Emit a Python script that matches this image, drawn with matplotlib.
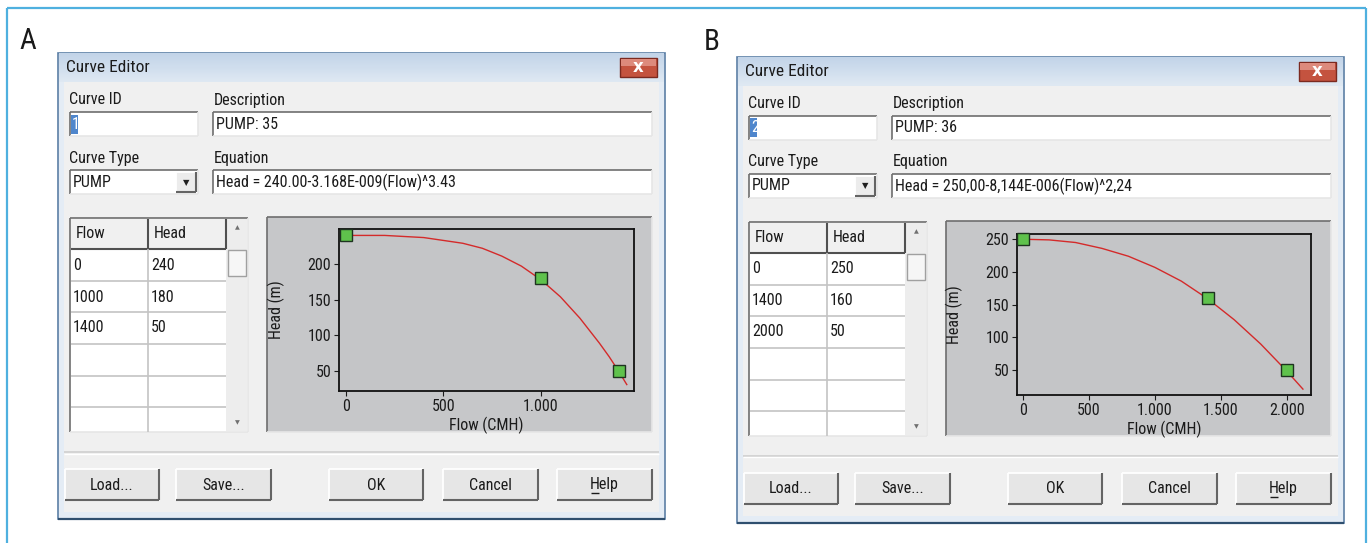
import numpy as np
import matplotlib
matplotlib.use('Agg')
import matplotlib.pyplot as plt
from matplotlib.patches import Rectangle
from matplotlib import font_manager as fm
from matplotlib.font_manager import FontProperties

# ---------------- data ----------------
panel_labels = ['A', 'B']
curve_ids = ['1', '2']
descriptions = ['PUMP: 35', 'PUMP: 36']
curve_types = ['PUMP', 'PUMP']
equations = ['Head = 240.00-3.168E-009(Flow)^3.43',
             'Head = 250,00-8,144E-006(Flow)^2,24']

table_flow_A = ['0', '1000', '1400']
table_head_A = ['240', '180', '50']
table_flow_B = ['0', '1400', '2000']
table_head_B = ['250', '160', '50']

points_flow_A = [0, 1000, 1400]
points_head_A = [240, 180, 50]
points_flow_B = [0, 1400, 2000]
points_head_B = [250, 160, 50]

# fitted curves
curve_flow_A = [0, 200, 400, 600, 700, 800, 900, 1000, 1100, 1200, 1300, 1350, 1400, 1440]
curve_head_A = [240, 240, 237, 229, 222, 211, 197, 178, 154, 124, 89, 70, 49, 31]
curve_flow_B = [0, 200, 400, 600, 800, 1000, 1200, 1400, 1600, 1800, 2000, 2120]
curve_head_B = [250, 249, 245, 236, 224, 207, 186, 159, 127, 90, 48, 21]

xticks_A = [0, 500, 1000]
xticklabels_A = ['0', '500', '1.000']
xticks_B = [0, 500, 1000, 1500, 2000]
xticklabels_B = ['0', '500', '1.000', '1.500', '2.000']
yticks_A = [50, 100, 150, 200]
yticks_B = [50, 100, 150, 200, 250]
xlim_A = (-34, 1477)
ylim_A = (22, 249)
xlim_B = (-43, 2181)
ylim_B = (12, 258)

button_labels = ['Load...', 'Save...', 'OK', 'Cancel', 'Help']

# ---------------- fonts ----------------
def find_narrow():
    bad = ('bold', 'italic', 'oblique', 'light', 'black', 'medium', 'thin',
           'semibold', 'extra', 'heavy', 'demi', 'hairline')
    prefs = ['Liberation Sans Narrow', 'Arial Narrow', 'Roboto Condensed',
             'Open Sans Condensed', 'Noto Sans', 'DejaVu Sans', 'Open Sans',
             'Roboto', 'Noto Sans Display']
    cands = []
    for f in fm.fontManager.ttflist:
        fn = f.fname.lower().split('/')[-1]
        nm = f.name
        st = str(f.stretch)
        narrow = ('narrow' in nm.lower() or 'condensed' in nm.lower() or
                  'narrow' in fn or 'condensed' in fn or 'condensed' in st)
        if not narrow:
            continue
        if any(b in fn.replace('condensed', '').replace('narrow', '') for b in bad):
            continue
        if f.style != 'normal':
            continue
        cands.append(f)
    for p in prefs:
        for f in cands:
            if f.name == p or f.name.startswith(p):
                return f.fname, True
    if cands:
        return cands[0].fname, True
    return None, False


NARROW_PATH, HAVE_NARROW = find_narrow()


def FP(size):
    if HAVE_NARROW:
        return FontProperties(fname=NARROW_PATH, size=size)
    return FontProperties(family='Liberation Sans', size=size * 0.9)


TXT = '#1b1b1b'
FS = 11.5

W, H = 1370, 543
fig = plt.figure(figsize=(W / 100, H / 100), dpi=100)
fig.patch.set_facecolor('white')
bg = fig.add_axes([0, 0, 1, 1])
bg.set_xlim(0, W)
bg.set_ylim(H, 0)
bg.axis('off')


def rect(x0, y0, x1, y1, fc, ec='none', lw=0, z=1):
    bg.add_patch(Rectangle((x0, y0), x1 - x0, y1 - y0, facecolor=fc,
                           edgecolor=ec, linewidth=lw, zorder=z))


def hl(x0, x1, y, c, lw=1.0, z=3):
    bg.plot([x0, x1], [y, y], color=c, lw=lw, zorder=z, solid_capstyle='butt')


def vl(x, y0, y1, c, lw=1.0, z=3):
    bg.plot([x, x], [y0, y1], color=c, lw=lw, zorder=z, solid_capstyle='butt')


def sunken(x0, y0, x1, y1, fc='white', z=2):
    rect(x0, y0, x1, y1, fc, z=z)
    hl(x0, x1, y0, '#6e6e6e', 1.2, z + 1)
    vl(x0, y0, y1, '#6e6e6e', 1.2, z + 1)
    hl(x0, x1, y1, '#e6e6e6', 1.2, z + 1)
    vl(x1, y0, y1, '#e6e6e6', 1.2, z + 1)


def raised(x0, y0, x1, y1, fc='#e8e8e8', z=2):
    rect(x0, y0, x1, y1, fc, z=z)
    hl(x0, x1, y0, '#ffffff', 1.3, z + 1)
    vl(x0, y0, y1, '#ffffff', 1.3, z + 1)
    hl(x0, x1, y1, '#646464', 1.5, z + 1)
    vl(x1, y0, y1, '#646464', 1.5, z + 1)


def text(x, y, s, size=FS, ha='left', va='center', color=TXT, fp=None, **kw):
    if fp is None:
        fp = FP(size)
    return bg.text(x, y, s, fontproperties=fp, ha=ha, va=va, color=color,
                   zorder=10, **kw)


def symbol(x, y, s, size, color):
    return bg.text(x, y, s, fontsize=size, ha='center', va='center', color=color,
                   family='DejaVu Sans', zorder=10)


# outer frame
frame_c = '#4fb0df'
hl(7, 1366, 8, frame_c, 1.6)
vl(7, 8, 543, frame_c, 1.6)
vl(1366, 8, 543, frame_c, 1.6)

offsets = [(0, 0), (679, 3.5)]
tables = [(table_flow_A, table_head_A), (table_flow_B, table_head_B)]
pts = [(points_flow_A, points_head_A), (points_flow_B, points_head_B)]
curves = [(curve_flow_A, curve_head_A), (curve_flow_B, curve_head_B)]
xt = [(xticks_A, xticklabels_A), (xticks_B, xticklabels_B)]
yt = [yticks_A, yticks_B]
lims = [(xlim_A, ylim_A), (xlim_B, ylim_B)]
ax_boxes = [(339, 229, 634, 391), (1017, 234, 1311, 395)]
letter_pos = [(28, 41), (712, 42)]

for i in range(2):
    dx, dy = offsets[i]
    X = lambda v: v + dx
    Y = lambda v: v + dy

    # panel letter
    text(letter_pos[i][0], letter_pos[i][1], panel_labels[i], size=21, ha='center',
         color='#1a1a1a')

    # dialog body
    rect(X(58), Y(53), X(665), Y(519), '#f0f0f0', ec='#5b7fa6', lw=1.2, z=1)
    rect(X(59), Y(82), X(64), Y(518), '#e4ecf5', z=1.5)
    rect(X(659), Y(82), X(664), Y(518), '#e4ecf5', z=1.5)
    rect(X(59), Y(512), X(664), Y(518), '#e4ecf5', z=1.5)
    hl(X(58), X(665), Y(519), '#2f4f6f', 1.6, 4)
    # title bar gradient
    n = 28
    c0 = np.array([0.76, 0.83, 0.91])
    c1 = np.array([0.87, 0.91, 0.95])
    for k in range(n):
        t = k / (n - 1)
        y0 = Y(53) + k * (29 / n)
        rect(X(59), y0, X(664), y0 + 29 / n + 0.3, tuple(c0 * (1 - t) + c1 * t), z=1.6)
    text(X(66), Y(68), 'Curve Editor', size=FS + 1)
    # close button
    rect(X(620), Y(58), X(657), Y(77), '#c4533f', ec='#7b2a20', lw=1, z=2)
    rect(X(621), Y(59), X(656), Y(66), '#dd8a7c', z=2.5)
    bg.text(X(638.5), Y(67.5), 'x', fontsize=12, ha='center', va='center', color='white',
            family='DejaVu Sans', fontweight='bold', zorder=10)

    # labels and edit boxes
    text(X(69), Y(100), 'Curve ID')
    sunken(X(70), Y(112), X(198), Y(136))
    rect(X(71.5), Y(114.5), X(78), Y(133.5), '#4f86cc', z=5)
    text(X(72), Y(124.5), curve_ids[i], color='white')

    text(X(214), Y(100), 'Description')
    sunken(X(213), Y(112), X(652), Y(136))
    text(X(216), Y(124.5), descriptions[i])

    text(X(69), Y(158), 'Curve Type')
    sunken(X(70), Y(170), X(198), Y(194))
    text(X(73), Y(182.5), curve_types[i])
    raised(X(176), Y(172), X(196), Y(192), fc='#ececec', z=4)
    symbol(X(186), Y(182.5), '\u25bc', 6, '#202020')

    text(X(214), Y(158), 'Equation')
    sunken(X(213), Y(170), X(652), Y(194))
    text(X(216), Y(182.5), equations[i])

    # table
    sunken(X(70), Y(218), X(248), Y(432), fc='white')
    rect(X(71), Y(219), X(226), Y(249), '#f0f0f0', z=3)
    grid_c = '#c4c4c4'
    row_lines = [281, 312, 344, 376, 407]
    for ry in row_lines:
        hl(X(71), X(226), Y(ry), grid_c, 1.2, 4)
    hl(X(71), X(226), Y(249), '#505050', 1.5, 4)
    vl(X(148), Y(219), Y(432), grid_c, 1.2, 4)
    vl(X(148), Y(219), Y(249), '#505050', 1.5, 5)
    vl(X(226), Y(219), Y(249), '#505050', 1.5, 5)
    text(X(76), Y(233.5), 'Flow')
    text(X(154), Y(233.5), 'Head')
    fl, hd = tables[i]
    row_c = [265, 297, 328]
    for r in range(len(fl)):
        text(X(73), Y(row_c[r]), fl[r])
        text(X(151), Y(row_c[r]), hd[r])
    # scrollbar
    rect(X(226.5), Y(219), X(247.5), Y(431), '#ededed', z=3)
    symbol(X(237), Y(228), '\u25b2', 4.5, '#707070')
    rect(X(228), Y(250), X(246), Y(276), '#f6f6f6', ec='#a0a0a0', lw=1, z=4)
    symbol(X(237), Y(423), '\u25bc', 4.5, '#707070')

    # plot panel
    sunken(X(267), Y(217), X(652), Y(432), fc='#c6c7c9')

    # separator & buttons
    hl(X(64), X(659), Y(452), '#cfcfcf', 1.2, 3)
    hl(X(64), X(659), Y(453.5), '#ffffff', 1.0, 3)
    bx = [(65, 159), (176, 271), (329, 423), (443, 538), (557, 652)]
    for (b0, b1), lab in zip(bx, button_labels):
        raised(X(b0), Y(469), X(b1), Y(500), fc='#e6e6e6', z=3)
        cx = X((b0 + b1) / 2)
        t = text(cx, Y(485), lab, ha='center')
        if lab == 'Help':
            fig.canvas.draw()
            r = fig.canvas.get_renderer()
            bb = t.get_window_extent(r)
            th = bg.text(0, 0, 'H', fontproperties=FP(FS))
            hb = th.get_window_extent(r)
            th.remove()
            hl(bb.x0 + 0.5, bb.x0 + hb.width - 0.5, Y(493), TXT, 1.0, 10)

    # chart
    x0, y0, x1, y1 = ax_boxes[i]
    ax = fig.add_axes([x0 / W, 1 - y1 / H, (x1 - x0) / W, (y1 - y0) / H])
    ax.set_facecolor('#c4c5c7')
    cf, ch = curves[i]
    ax.plot(cf, ch, color='#d42a2a', lw=1.0, zorder=2)
    pf, ph = pts[i]
    ax.plot(pf, ph, ls='none', marker='s', markersize=8.5, markerfacecolor='#5fc24c',
            markeredgecolor='#1e3320', markeredgewidth=1.0, zorder=3, clip_on=False)
    ax.set_xlim(*lims[i][0])
    ax.set_ylim(*lims[i][1])
    ax.set_xticks(xt[i][0])
    ax.set_xticklabels(xt[i][1])
    ax.set_yticks(yt[i])
    for s in ax.spines.values():
        s.set_color('#111111')
        s.set_linewidth(1.3)
    ax.tick_params(axis='both', direction='out', length=3.5, width=0.8, pad=2,
                   colors='#1b1b1b')
    for lab in ax.get_xticklabels() + ax.get_yticklabels():
        lab.set_fontproperties(FP(11.5))
    ax.set_xlabel('Flow (CMH)', fontproperties=FP(11.5), color='#1b1b1b')
    ax.set_ylabel('Head (m)', fontproperties=FP(11.5), color='#1b1b1b')
    axw, axh = x1 - x0, y1 - y0
    ax.xaxis.set_label_coords(0.5, -(417 - 391) / axh)
    ax.yaxis.set_label_coords(-54 / axw, 0.5)

fig.savefig('out.png', dpi=100, facecolor='white')
